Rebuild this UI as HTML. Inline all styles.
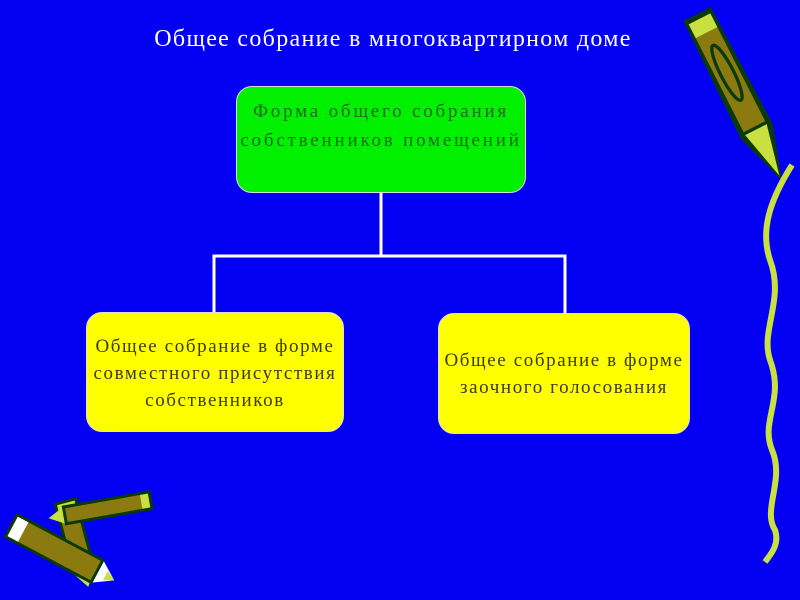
<!DOCTYPE html>
<html><head><meta charset="utf-8"><style>
html,body{margin:0;padding:0;}
body{width:800px;height:600px;background:#0400f4;position:relative;overflow:hidden;font-family:"Liberation Serif","Noto Serif CJK SC",serif;}
.t{position:absolute;left:0;width:786px;top:26px;text-align:center;color:#fff;font-size:24px;letter-spacing:1.3px;white-space:nowrap;}
.b{position:absolute;border-radius:16px;border:1px solid #ddd;box-sizing:border-box;text-align:center;white-space:nowrap;}
.g{left:236px;top:86px;width:290px;height:107px;background:#00f000;color:#1c6a1c;padding-top:10px;font-size:19px;line-height:29px;letter-spacing:2.8px;}
.y1{left:86px;top:312px;width:258px;height:120px;background:#ffff00;color:#3a3a10;padding-top:20px;font-size:19px;line-height:27px;letter-spacing:1.6px;}
.y2{left:438px;top:313px;width:252px;height:121px;background:#ffff00;color:#3a3a10;padding-top:33px;font-size:19px;line-height:27px;letter-spacing:1.6px;}
svg{position:absolute;left:0;top:0;}
</style></head><body>
<svg width="800" height="600">
<g stroke="#fff" stroke-width="3" fill="none">
<line x1="381" y1="193" x2="381" y2="256"/>
<polyline points="214,312 214,256 565,256 565,313"/>
</g>
<g transform="translate(697,14) rotate(-27) scale(1.1)">
<polygon points="-14,0 14,0 16,120 0,170 -16,120" fill="#0a3a0a"/>
<rect x="-11" y="5" width="22" height="110" fill="#8a7a10"/>
<rect x="-11" y="5" width="22" height="14" fill="#c8e040"/>
<ellipse cx="0" cy="60" rx="6" ry="28" fill="none" stroke="#0a3a0a" stroke-width="3"/>
<polygon points="-11,118 11,118 0,165" fill="#c8e040"/>
</g>
<path d="M792,165 C770,200 760,230 770,260 C785,300 760,330 770,360 C785,400 760,420 772,450 C785,480 762,510 775,530 C780,545 770,555 765,562" stroke="#c8e040" stroke-width="6" fill="none"/>
<g transform="translate(65,500) rotate(75)">
<rect x="0" y="-12" width="75" height="24" fill="#0a3a0a"/><rect x="3" y="-9" width="68" height="18" fill="#8a7a10"/><rect x="3" y="-9" width="8" height="18" fill="#c8e040"/>
<polygon points="75,-10 90,0 75,10" fill="#c8e040"/></g>
<g transform="translate(152,500) rotate(170)">
<rect x="0" y="-10" width="90" height="20" fill="#0a3a0a"/><rect x="3" y="-7" width="84" height="14" fill="#8a7a10"/><rect x="3" y="-7" width="8" height="14" fill="#c8e040"/>
<polygon points="90,-8 105,0 90,8" fill="#c8e040"/></g>
<g transform="translate(10,525) rotate(28)">
<rect x="0" y="-14" width="100" height="28" fill="#0a3a0a"/><rect x="3" y="-11" width="94" height="22" fill="#8a7a10"/><rect x="3" y="-11" width="12" height="22" fill="#fff"/>
<polygon points="100,-12 118,0 100,12" fill="#fff"/><polygon points="108,-5 118,0 108,5" fill="#c8e040"/></g>
</svg>
<div class="t">Общее собрание в многоквартирном доме</div>
<div class="b g">Форма общего собрания<br>собственников помещений</div>
<div class="b y1">Общее собрание в форме<br>совместного присутствия<br>собственников</div>
<div class="b y2">Общее собрание в форме<br>заочного голосования</div>
</body></html>
